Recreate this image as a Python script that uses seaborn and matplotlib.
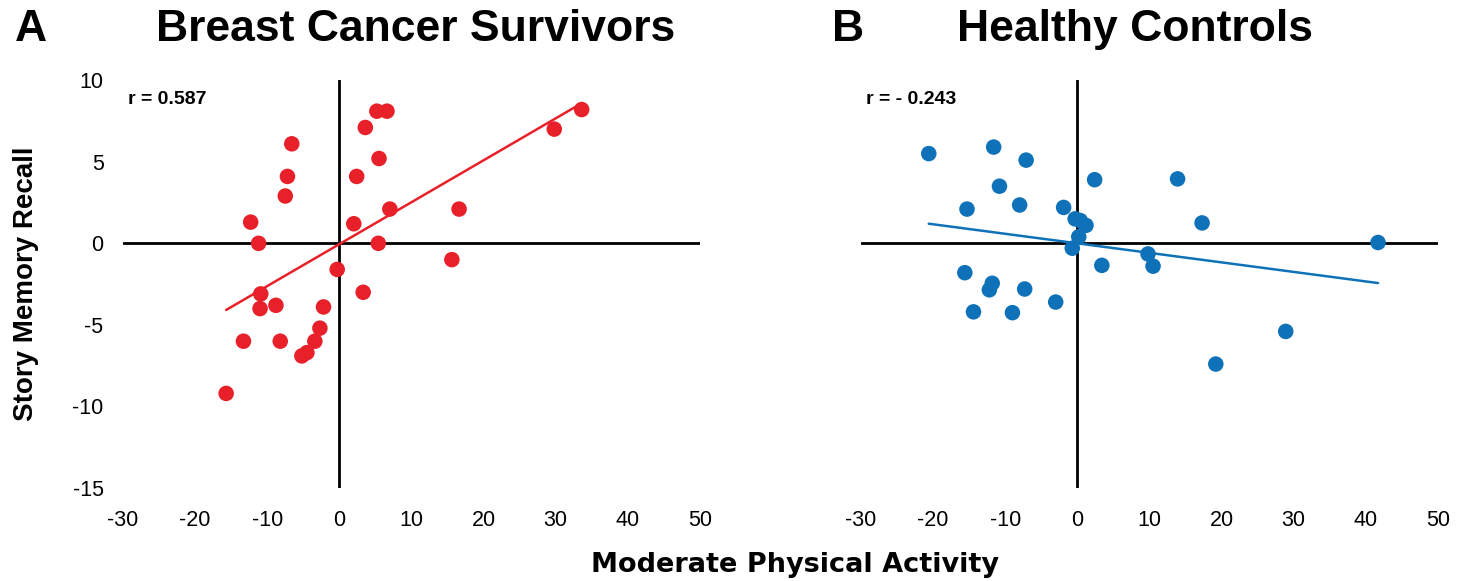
import numpy as np
import pandas as pd
import matplotlib
matplotlib.use("Agg")
import matplotlib.pyplot as plt
import seaborn as sns

# ---- data ----
bcs_activity = [5.2, 6.6, 3.6, -6.6, 5.5, -7.2, 2.4, -7.5, 7.0, 16.6, -12.3, 2.0, -11.2, 5.4,
                15.6, -0.3, -10.9, 3.3, -8.8, -11.0, -2.2, -2.7, -13.3, -8.2, -3.4, -4.5,
                -5.2, -15.7, 29.8, 33.6]
bcs_recall = [8.1, 8.1, 7.1, 6.1, 5.2, 4.1, 4.1, 2.9, 2.1, 2.1, 1.3, 1.2, 0.0, 0.0,
              -1.0, -1.6, -3.1, -3.0, -3.8, -4.0, -3.9, -5.2, -6.0, -6.0, -6.0, -6.7,
              -6.9, -9.2, 7.0, 8.2]
hc_activity = [-20.6, -11.6, -7.1, -10.8, 2.4, 13.9, -15.3, -8.0, -1.9, -0.3, 0.4, 1.2,
               17.3, 0.2, -0.7, 41.7, 9.8, 10.5, 3.4, -15.6, -11.8, -12.2, -7.3, -3.0,
               -14.4, -9.0, 28.9, 19.2]
hc_recall = [5.5, 5.9, 5.1, 3.5, 3.9, 3.95, 2.1, 2.35, 2.2, 1.5, 1.4, 1.1,
             1.25, 0.4, -0.3, 0.05, -0.65, -1.4, -1.35, -1.8, -2.45, -2.85, -2.8, -3.6,
             -4.2, -4.25, -5.4, -7.4]
bcs_fit = [0.257, -0.05]   # slope, intercept
hc_fit = [-0.0584, 0.0]
bcs_r = "r = 0.587"
hc_r = "r = - 0.243"
panel_titles = ["Breast Cancer Survivors", "Healthy Controls"]
panel_letters = ["A", "B"]
x_ticks = [-30, -20, -10, 0, 10, 20, 30, 40, 50]
y_ticks = [-15, -10, -5, 0, 5, 10]

sns.set_theme(style="white")
plt.rcParams['font.family'] = ['Liberation Sans', 'DejaVu Sans']
plt.rcParams['axes.unicode_minus'] = False
for k in ["text.color", "axes.labelcolor", "xtick.color", "ytick.color"]:
    plt.rcParams[k] = "black"

RED = "#E8202A"
BLUE = "#0F72B9"

fig = plt.figure(figsize=(14.68, 5.81), dpi=100)
ax1 = fig.add_axes([0.0838, 0.160, 0.393, 0.702])
ax2 = fig.add_axes([0.5865, 0.160, 0.393, 0.702])

panels = [
    (ax1, bcs_activity, bcs_recall, bcs_fit, bcs_r, RED, True),
    (ax2, hc_activity, hc_recall, hc_fit, hc_r, BLUE, False),
]

for i, (ax, xs, ys, fit, rtxt, col, show_y) in enumerate(panels):
    df = pd.DataFrame({"x": xs, "y": ys})
    xr = np.array([min(xs), max(xs)])
    line_df = pd.DataFrame({"x": xr, "y": fit[0] * xr + fit[1]})
    ax.axhline(0, color="black", lw=2.0, zorder=1)
    ax.axvline(0, color="black", lw=2.0, zorder=1)
    sns.lineplot(data=line_df, x="x", y="y", ax=ax, color=col, lw=1.8, zorder=2)
    sns.scatterplot(data=df, x="x", y="y", ax=ax, color=col, s=125,
                    edgecolor="none", zorder=3)
    ax.set_xlim(-30, 50)
    ax.set_ylim(-15, 10)
    ax.set_xticks(x_ticks)
    ax.set_yticks(y_ticks)
    ax.tick_params(axis="both", length=0, labelsize=15.5)
    ax.tick_params(axis="x", pad=16)
    ax.tick_params(axis="y", pad=14)
    if not show_y:
        ax.set_yticklabels([])
    for sp in ax.spines.values():
        sp.set_visible(False)
    ax.set_xlabel("")
    ax.set_ylabel("")
    ax.text(0.009, 0.953, rtxt, transform=ax.transAxes, fontsize=14,
            fontweight="bold", ha="left", va="center")

ax1.set_ylabel("Story Memory Recall", fontsize=20, fontweight="bold", labelpad=24)

fig.text(0.2834, 0.950, panel_titles[0], fontsize=32, fontweight="bold",
         ha="center", va="center")
fig.text(0.773, 0.950, panel_titles[1], fontsize=32, fontweight="bold",
         ha="center", va="center")
fig.text(0.021, 0.950, panel_letters[0], fontsize=32, fontweight="bold",
         ha="center", va="center")
fig.text(0.578, 0.950, panel_letters[1], fontsize=32, fontweight="bold",
         ha="center", va="center")
fig.text(0.5415, 0.028, "Moderate Physical Activity", fontsize=19.5,
         fontweight="bold", ha="center", va="center", family="DejaVu Sans")

fig.savefig("out.png", dpi=100)
